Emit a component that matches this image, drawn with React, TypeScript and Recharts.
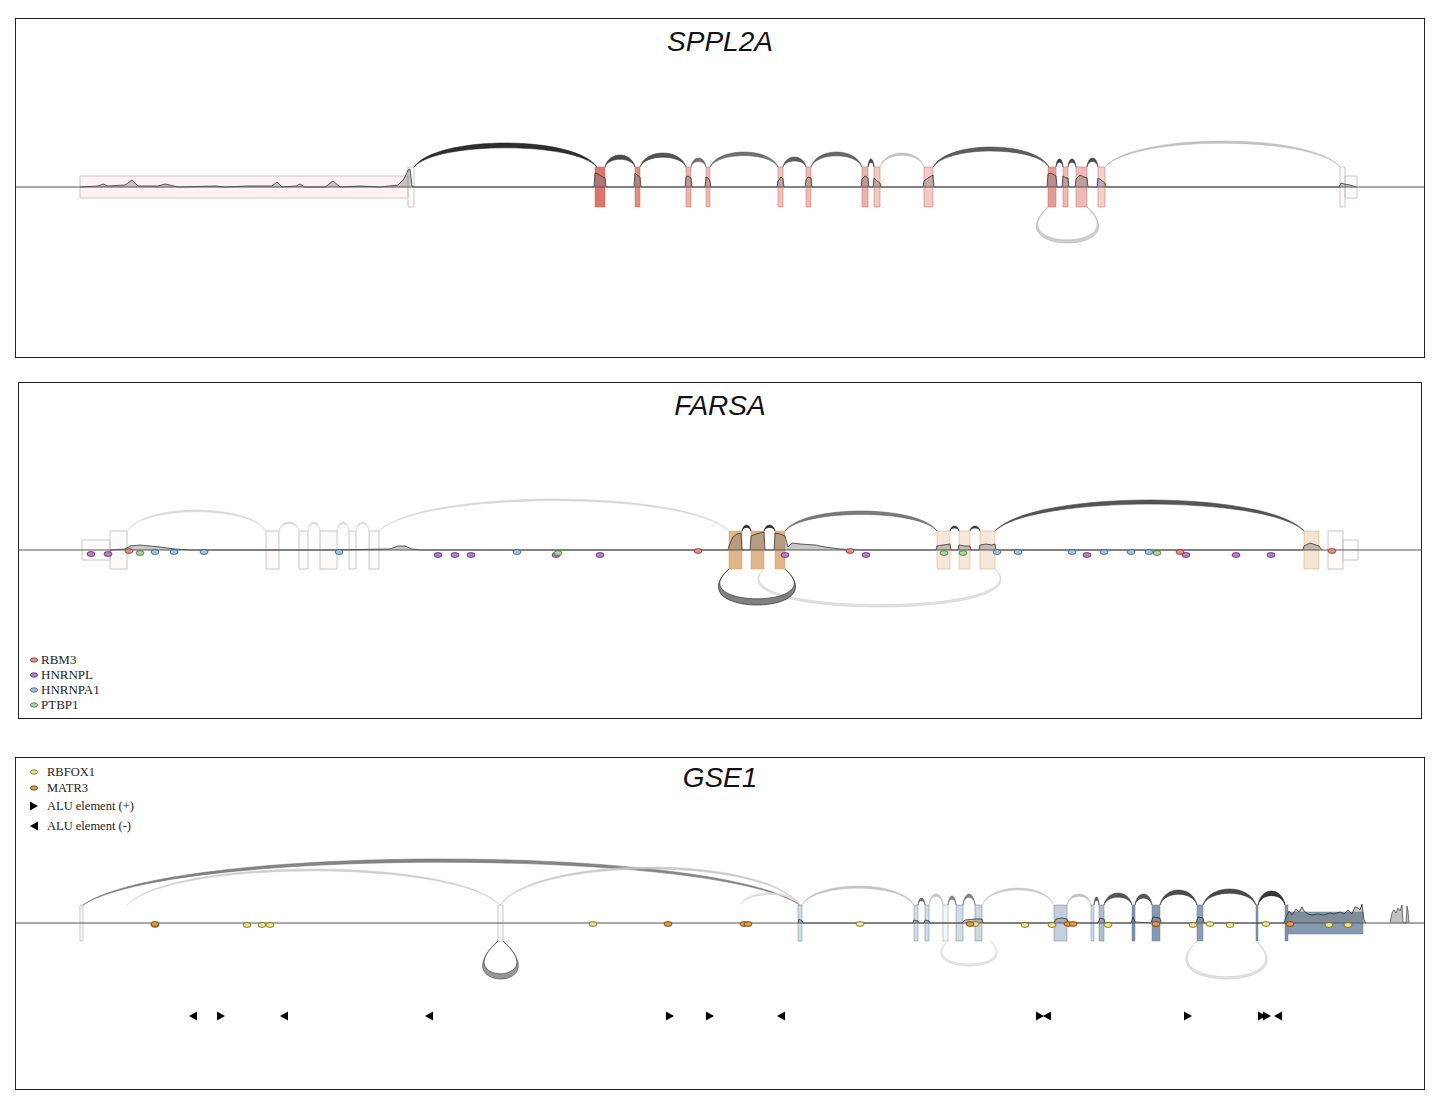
import React from "react";
import { ComposedChart, XAxis, YAxis, Area, Scatter, ReferenceArea, ReferenceLine } from "recharts";

type Span = [number, number, number]; // start, end, weight
type Junction = [number, number, number, number]; // start, end, height, weight
type Pt = [number, number];

// ---------- SPPL2A ----------
const sppl2aUtrs: Span[] = [[80, 408, 0.08], [1345, 1357, 0.02]];
const sppl2aExons: Span[] = [
  [408, 414, 0.03], [595, 605, 0.9], [635, 640, 0.75], [686, 691, 0.5], [706, 710, 0.45],
  [778, 783, 0.4], [806, 811, 0.45], [862, 868, 0.5], [874, 880, 0.35], [924, 933, 0.35],
  [1048, 1056, 0.65], [1063, 1068, 0.45], [1076, 1087, 0.45], [1098, 1105, 0.3], [1340, 1345, 0.02],
];
const sppl2aArcs: Junction[] = [
  [414, 597, 24, 0.95], [605, 635, 12, 0.8], [640, 686, 14, 0.75], [691, 706, 9, 0.6],
  [710, 778, 15, 0.6], [783, 806, 10, 0.7], [811, 862, 15, 0.65], [868, 874, 8, 0.8],
  [880, 924, 14, 0.2], [933, 1049, 20, 0.7], [1056, 1063, 8, 0.85], [1068, 1076, 8, 0.8],
  [1087, 1098, 9, 0.8], [1105, 1340, 26, 0.2],
];
const sppl2aLoops: Junction[] = [[1048, 1087, 36, 0.18]];
const sppl2aCoverage: Pt[] = [
  [80, 0], [98, 1], [103, 3], [108, 1], [125, 2], [132, 7], [138, 1], [158, 1], [165, 3], [170, 2],
  [178, 0], [215, 1], [225, 0], [248, 1], [255, 1], [272, 1], [277, 5], [282, 0], [296, 1], [300, 3],
  [305, 0], [325, 0], [333, 6], [340, 0], [360, 1], [380, 0], [398, 2], [404, 8], [408, 17], [410, 18],
  [412, 1], [414, 0], [594, 0], [595, 14], [598, 13], [601, 11], [605, 9], [606, 0], [634, 0], [635, 14],
  [637, 12], [640, 10], [641, 0], [685, 0], [686, 10], [688, 11], [691, 9], [692, 0], [705, 0], [706, 10],
  [708, 9], [710, 6], [711, 0], [777, 0], [778, 6], [781, 10], [783, 8], [784, 0], [805, 0], [806, 7],
  [808, 10], [811, 9], [812, 0], [861, 0], [862, 8], [865, 11], [868, 9], [869, 0], [873, 0], [874, 9],
  [877, 6], [880, 4], [881, 0], [923, 0], [924, 6], [928, 9], [933, 12], [934, 0], [1047, 0], [1048, 13],
  [1051, 14], [1056, 11], [1057, 0], [1062, 0], [1063, 11], [1066, 9], [1068, 9], [1069, 0], [1075, 0],
  [1076, 8], [1080, 12], [1084, 10], [1087, 9], [1088, 0], [1097, 0], [1098, 9], [1101, 7], [1105, 4],
  [1106, 0], [1339, 0], [1341, 4], [1344, 3], [1350, 2], [1356, 0],
];

// ---------- FARSA ----------
const farsaUtrs: Span[] = [[82, 110, 0.02], [1343, 1358, 0.02]];
const farsaExons: Span[] = [
  [110, 127, 0.03], [266, 279, 0.04], [299, 308, 0.04], [320, 337, 0.05], [349, 356, 0.04],
  [369, 379, 0.04], [729, 742, 0.8], [751, 764, 0.8], [775, 785, 0.8], [937, 950, 0.25],
  [959, 970, 0.25], [980, 995, 0.25], [1304, 1319, 0.3], [1328, 1343, 0.02],
];
const farsaArcs: Junction[] = [
  [127, 266, 21, 0.07], [279, 299, 9, 0.08], [308, 320, 9, 0.08], [337, 349, 9, 0.08],
  [356, 369, 9, 0.08], [379, 729, 32, 0.08], [742, 751, 6, 0.95], [764, 775, 6, 0.95],
  [785, 937, 20, 0.55], [950, 959, 5, 0.85], [970, 980, 5, 0.85], [995, 1304, 31, 0.75],
];
const farsaLoops: Junction[] = [[764, 995, 38, 0.06], [729, 785, 36, 0.7]];
const farsaCoverage: Pt[] = [
  [110, 0], [125, 1], [130, 4], [140, 5], [150, 4], [160, 3], [175, 1], [190, 0], [330, 0], [390, 1],
  [398, 4], [405, 4], [412, 1], [420, 0], [728, 0], [729, 4], [733, 13], [737, 16], [741, 17], [742, 0],
  [750, 0], [751, 14], [756, 16], [760, 17], [764, 18], [765, 0], [774, 0], [775, 17], [780, 16], [785, 14],
  [788, 3], [792, 7], [800, 6], [815, 5], [825, 3], [840, 1], [860, 0], [936, 0], [937, 4], [943, 5],
  [950, 6], [951, 0], [958, 0], [959, 5], [965, 4], [970, 4], [971, 0], [979, 0], [980, 5], [986, 6],
  [992, 5], [995, 6], [996, 0], [1303, 0], [1304, 4], [1310, 7], [1316, 5], [1319, 4], [1322, 0],
];
const rbm3Sites: Pt[] = [[129, -1], [698, -1], [850, -1], [1180, -2], [1332, -1]];
const hnrnplSites: Pt[] = [
  [91, -4], [108, -4], [438, -5], [455, -5], [471, -5], [556, -5], [600, -5], [785, -5],
  [866, -5], [1087, -5], [1186, -5], [1236, -5], [1271, -5],
];
const hnrnpa1Sites: Pt[] = [
  [155, -2], [174, -2], [204, -2], [339, -2], [517, -2], [997, -2], [1018, -2], [1072, -2],
  [1104, -2], [1131, -2], [1149, -2],
];
const ptbp1Sites: Pt[] = [[140, -3], [558, -3], [944, -3], [963, -3], [1157, -3]];

// ---------- GSE1 ----------
const gse1Utrs: Span[] = [[1288, 1363, 0.85]];
const gse1Exons: Span[] = [
  [80, 83, 0.03], [498, 503, 0.04], [798, 802, 0.3], [914, 918, 0.3], [925, 929, 0.3], [943, 948, 0.08],
  [956, 963, 0.3], [975, 982, 0.35], [1054, 1067, 0.4], [1091, 1094, 0.3], [1099, 1104, 0.55],
  [1132, 1135, 0.9], [1152, 1160, 0.85], [1197, 1203, 0.8], [1256, 1258, 0.9], [1285, 1288, 0.9],
];
const gse1Arcs: Junction[] = [
  [83, 800, 46, 0.5], [127, 500, 36, 0.12], [500, 800, 38, 0.15], [740, 800, 12, 0.06],
  [802, 914, 19, 0.18], [918, 925, 7, 0.6], [929, 943, 11, 0.2], [948, 956, 9, 0.5],
  [963, 975, 11, 0.5], [982, 1054, 17, 0.15], [1067, 1091, 11, 0.2], [1094, 1099, 8, 0.7],
  [1104, 1132, 12, 0.75], [1135, 1152, 11, 0.75], [1160, 1197, 15, 0.8], [1203, 1256, 16, 0.8],
  [1258, 1285, 14, 0.9],
];
const gse1Loops: Junction[] = [[498, 503, 38, 0.55], [948, 990, 25, 0.03], [1197, 1256, 38, 0.06]];
const gse1Coverage: Pt[] = [
  [798, 0], [799, 4], [802, 2], [803, 0], [913, 0], [914, 3], [918, 2], [919, 0], [924, 0], [925, 3],
  [929, 2], [930, 0], [962, 0], [965, 3], [975, 4], [982, 4], [983, 0], [1054, 0], [1056, 4], [1062, 5],
  [1067, 4], [1068, 0], [1098, 0], [1100, 5], [1104, 4], [1105, 0], [1131, 0], [1133, 6], [1135, 1],
  [1151, 0], [1153, 6], [1160, 5], [1161, 0], [1196, 0], [1198, 6], [1203, 5], [1204, 0], [1284, 0],
  [1286, 6], [1289, 12], [1292, 8], [1296, 14], [1299, 11], [1302, 16], [1304, 12], [1308, 9], [1312, 8],
  [1318, 9], [1324, 8], [1330, 10], [1334, 9], [1340, 11], [1344, 9], [1348, 13], [1352, 9], [1355, 16],
  [1358, 15], [1360, 13], [1362, 19], [1364, 3], [1366, 0],
];
const gse1Downstream: Pt[] = [
  [1390, 0], [1392, 10], [1394, 13], [1396, 10], [1398, 15], [1400, 12], [1402, 18], [1403, 0],
  [1406, 0], [1407, 17], [1408, 12], [1409, 0],
];
const rbfox1Sites: Pt[] = [
  [155, -2], [247, -2], [262, -2], [270, -2], [593, -1], [860, -1], [975, -1], [1025, -2], [1052, -2],
  [1108, -2], [1193, -2], [1210, -1], [1230, -2], [1266, -1], [1329, -2], [1348, -2],
];
const matr3Sites: Pt[] = [
  [155, -1], [668, -1], [744, -1], [748, -1], [970, -1], [1068, -1], [1073, -1], [1156, -1], [1290, -1],
];
const aluPlus: number[] = [221, 670, 710, 1040, 1188, 1262, 1267];
const aluMinus: number[] = [193, 284, 429, 781, 1047, 1278];
const ALU_LEVEL = -93;

const SITE_STYLE: Record<string, { fill: string; stroke: string }> = {
  RBM3: { fill: "#ee8a8a", stroke: "#6e3535" },
  HNRNPL: { fill: "#c27ccf", stroke: "#4a2752" },
  HNRNPA1: { fill: "#9cc8ea", stroke: "#33516b" },
  PTBP1: { fill: "#a8d8a0", stroke: "#46663f" },
  RBFOX1: { fill: "#f2e68a", stroke: "#6b5f20" },
  MATR3: { fill: "#e89a3c", stroke: "#5a3510" },
};

const grey = (w: number) => {
  const g = Math.round(228 - 216 * w);
  return `rgb(${g},${g},${g})`;
};
const toXY = (p: Pt[]) => p.map(([x, y]) => ({ x, y }));

// arc above the exons, drawn inside the ReferenceArea box
const upArc = (weight: number) => (p: any) => {
  const { x, y, width: w, height: h } = p;
  const y0 = y + h;
  const t = Math.min(h * 0.4, 1.5 + 3.5 * weight);
  const k = w * 0.12;
  const c1 = y0 - h / 0.75;
  const c2 = y0 - (h - t) / 0.75;
  const d = `M${x},${y0} C${x + k},${c1} ${x + w - k},${c1} ${x + w},${y0} C${x + w - k},${c2} ${x + k},${c2} ${x},${y0} Z`;
  const edge = weight < 0.25 ? grey(weight) : grey(Math.min(1, weight + 0.1));
  return <path d={d} fill={grey(weight)} fillOpacity={0.9} stroke={edge} strokeWidth={0.5} />;
};

// cup-shaped junction below the exons
const downLoop = (weight: number) => (p: any) => {
  const { x, y, width: w, height: h } = p;
  const b = 1.45 * h;
  const bi = b * 0.9;
  const t = Math.min(h * 0.3, 2 + 6 * weight);
  const c1 = y + h / 0.75;
  const c2 = y + (h - t) / 0.75;
  const d = `M${x},${y} C${x - b},${c1} ${x + w + b},${c1} ${x + w},${y} C${x + w + bi},${c2} ${x - bi},${c2} ${x},${y} Z`;
  const edge = weight < 0.25 ? grey(weight + 0.04) : grey(Math.min(1, weight + 0.2));
  return <path d={d} fill={grey(weight * 0.8)} fillOpacity={0.85} stroke={edge} strokeWidth={0.6} />;
};

const ellipse = (name: string) => (p: any) => (
  <ellipse cx={p.cx} cy={p.cy} rx={4} ry={2.4} fill={SITE_STYLE[name].fill} stroke={SITE_STYLE[name].stroke} strokeWidth={0.8} />
);
const tri = (dir: 1 | -1) => (p: any) => (
  <path d={`M${p.cx - 4 * dir},${p.cy - 4.5} L${p.cx + 4 * dir},${p.cy} L${p.cx - 4 * dir},${p.cy + 4.5} Z`} fill="#000" />
);

interface PanelProps {
  left: number; top: number; width: number; height: number; base: number;
  half: number; utrHalf: number; color: string; title: string; titleTop: number;
  utrs: Span[]; exons: Span[]; arcs: Junction[]; loops: Junction[];
  coverage: Pt[]; extra?: Pt[]; sites: { name: string; pts: Pt[] }[];
  alu?: boolean; children?: React.ReactNode;
}

function Panel(props: PanelProps) {
  const { left, top, width, height, base, half, utrHalf, color, title, titleTop, utrs, exons, arcs, loops, coverage, extra, sites, alu, children } = props;
  const exonStyle = (w: number) => ({
    fill: color,
    fillOpacity: Math.max(0.03, w * 0.9),
    stroke: w < 0.1 ? "#c8c8c8" : color,
    strokeOpacity: w < 0.1 ? 1 : 0.45,
    strokeWidth: 1,
  });
  return (
    <div style={{ position: "absolute", left, top, width, height, border: "1px solid #222", boxSizing: "border-box" }}>
      <div style={{ position: "absolute", left: 0, top: 0 }}>
        <ComposedChart width={width - 2} height={height - 2} margin={{ top: 0, right: 0, bottom: 0, left: 0 }}>
          <XAxis type="number" dataKey="x" domain={[left + 1, left + width - 1]} hide allowDataOverflow />
          <YAxis type="number" dataKey="y" domain={[-(height - 1 - base), base - 1]} hide allowDataOverflow />
          {utrs.map(([a, b, w], i) => (
            <ReferenceArea key={`u${i}`} x1={a} x2={b} y1={-utrHalf} y2={utrHalf} {...exonStyle(w)} />
          ))}
          {exons.map(([a, b, w], i) => (
            <ReferenceArea key={`e${i}`} x1={a} x2={b} y1={-half} y2={half} {...exonStyle(w)} />
          ))}
          {arcs.map(([a, b, h, w], i) => (
            <ReferenceArea key={`a${i}`} x1={a} x2={b} y1={half} y2={half + h} shape={upArc(w)} />
          ))}
          {loops.map(([a, b, h, w], i) => (
            <ReferenceArea key={`l${i}`} x1={a} x2={b} y1={-half} y2={-half - h} shape={downLoop(w)} />
          ))}
          <ReferenceLine y={0} stroke="#555" strokeWidth={1} />
          <Area data={toXY(coverage)} dataKey="y" type="linear" baseValue={0} stroke="#333" strokeWidth={0.8}
            fill="#777" fillOpacity={0.4} dot={false} activeDot={false} isAnimationActive={false} />
          {extra && (
            <Area data={toXY(extra)} dataKey="y" type="linear" baseValue={0} stroke="#555" strokeWidth={0.8}
              fill="#bbb" fillOpacity={0.9} dot={false} activeDot={false} isAnimationActive={false} />
          )}
          {sites.map((s) => (
            <Scatter key={s.name} data={toXY(s.pts)} dataKey="y" shape={ellipse(s.name)} isAnimationActive={false} />
          ))}
          {alu && (
            <Scatter data={aluPlus.map((x) => ({ x, y: ALU_LEVEL }))} dataKey="y" shape={tri(1)} isAnimationActive={false} />
          )}
          {alu && (
            <Scatter data={aluMinus.map((x) => ({ x, y: ALU_LEVEL }))} dataKey="y" shape={tri(-1)} isAnimationActive={false} />
          )}
        </ComposedChart>
      </div>
      <div style={{ position: "absolute", left: 0, right: 0, top: titleTop, textAlign: "center", font: "italic 28px/28px 'Liberation Sans', Arial, sans-serif", color: "#111" }}>
        {title}
      </div>
      {children}
    </div>
  );
}

const legendText: React.CSSProperties = { fontFamily: "'Liberation Serif', 'Times New Roman', serif", color: "#222", whiteSpace: "nowrap" };

function LegendRow({ x, y, tx, label, marker, size }: { x: number; y: number; tx: number; label: string; marker: React.ReactNode; size: number }) {
  return (
    <>
      <svg style={{ position: "absolute", left: x - 6, top: y - 6 }} width={12} height={12}>{marker}</svg>
      <div style={{ ...legendText, position: "absolute", left: tx, top: y - 8, fontSize: size, lineHeight: "16px" }}>{label}</div>
    </>
  );
}

const legendEllipse = (name: string) => (
  <ellipse cx={6} cy={6} rx={3.5} ry={2.2} fill={SITE_STYLE[name].fill} stroke={SITE_STYLE[name].stroke} strokeWidth={0.8} />
);

export default function App() {
  return (
    <div style={{ position: "relative", width: 1440, height: 1100, background: "#fff", overflow: "hidden" }}>
      <style>{"body{margin:0}"}</style>
      <Panel left={15} top={18} width={1410} height={340} base={169} half={20} utrHalf={11} color="#d0574c"
        title="SPPL2A" titleTop={9} utrs={sppl2aUtrs} exons={sppl2aExons} arcs={sppl2aArcs} loops={sppl2aLoops}
        coverage={sppl2aCoverage} sites={[]} />
      <Panel left={18} top={382} width={1404} height={337} base={168} half={19} utrHalf={10} color="#d49a5a"
        title="FARSA" titleTop={9} utrs={farsaUtrs} exons={farsaExons} arcs={farsaArcs} loops={farsaLoops}
        coverage={farsaCoverage}
        sites={[
          { name: "HNRNPL", pts: hnrnplSites }, { name: "HNRNPA1", pts: hnrnpa1Sites },
          { name: "PTBP1", pts: ptbp1Sites }, { name: "RBM3", pts: rbm3Sites },
        ]}>
        {["RBM3", "HNRNPL", "HNRNPA1", "PTBP1"].map((n, i) => (
          <LegendRow key={n} x={15} y={277 + i * 15} tx={22} label={n} size={13} marker={legendEllipse(n)} />
        ))}
      </Panel>
      <Panel left={15} top={757} width={1410} height={333} base={166} half={18} utrHalf={11} color="#5f7a99"
        title="GSE1" titleTop={6} utrs={gse1Utrs} exons={gse1Exons} arcs={gse1Arcs} loops={gse1Loops}
        coverage={gse1Coverage} extra={gse1Downstream} alu
        sites={[{ name: "RBFOX1", pts: rbfox1Sites }, { name: "MATR3", pts: matr3Sites }]}>
        <LegendRow x={18} y={14} tx={31} label="RBFOX1" size={12.5} marker={legendEllipse("RBFOX1")} />
        <LegendRow x={18} y={30} tx={31} label="MATR3" size={12.5} marker={legendEllipse("MATR3")} />
        <LegendRow x={18} y={48} tx={31} label="ALU element (+)" size={12.5}
          marker={<path d="M2,1.5 L10,6 L2,10.5 Z" fill="#000" />} />
        <LegendRow x={18} y={68} tx={31} label="ALU element (-)" size={12.5}
          marker={<path d="M10,1.5 L2,6 L10,10.5 Z" fill="#000" />} />
      </Panel>
    </div>
  );
}
